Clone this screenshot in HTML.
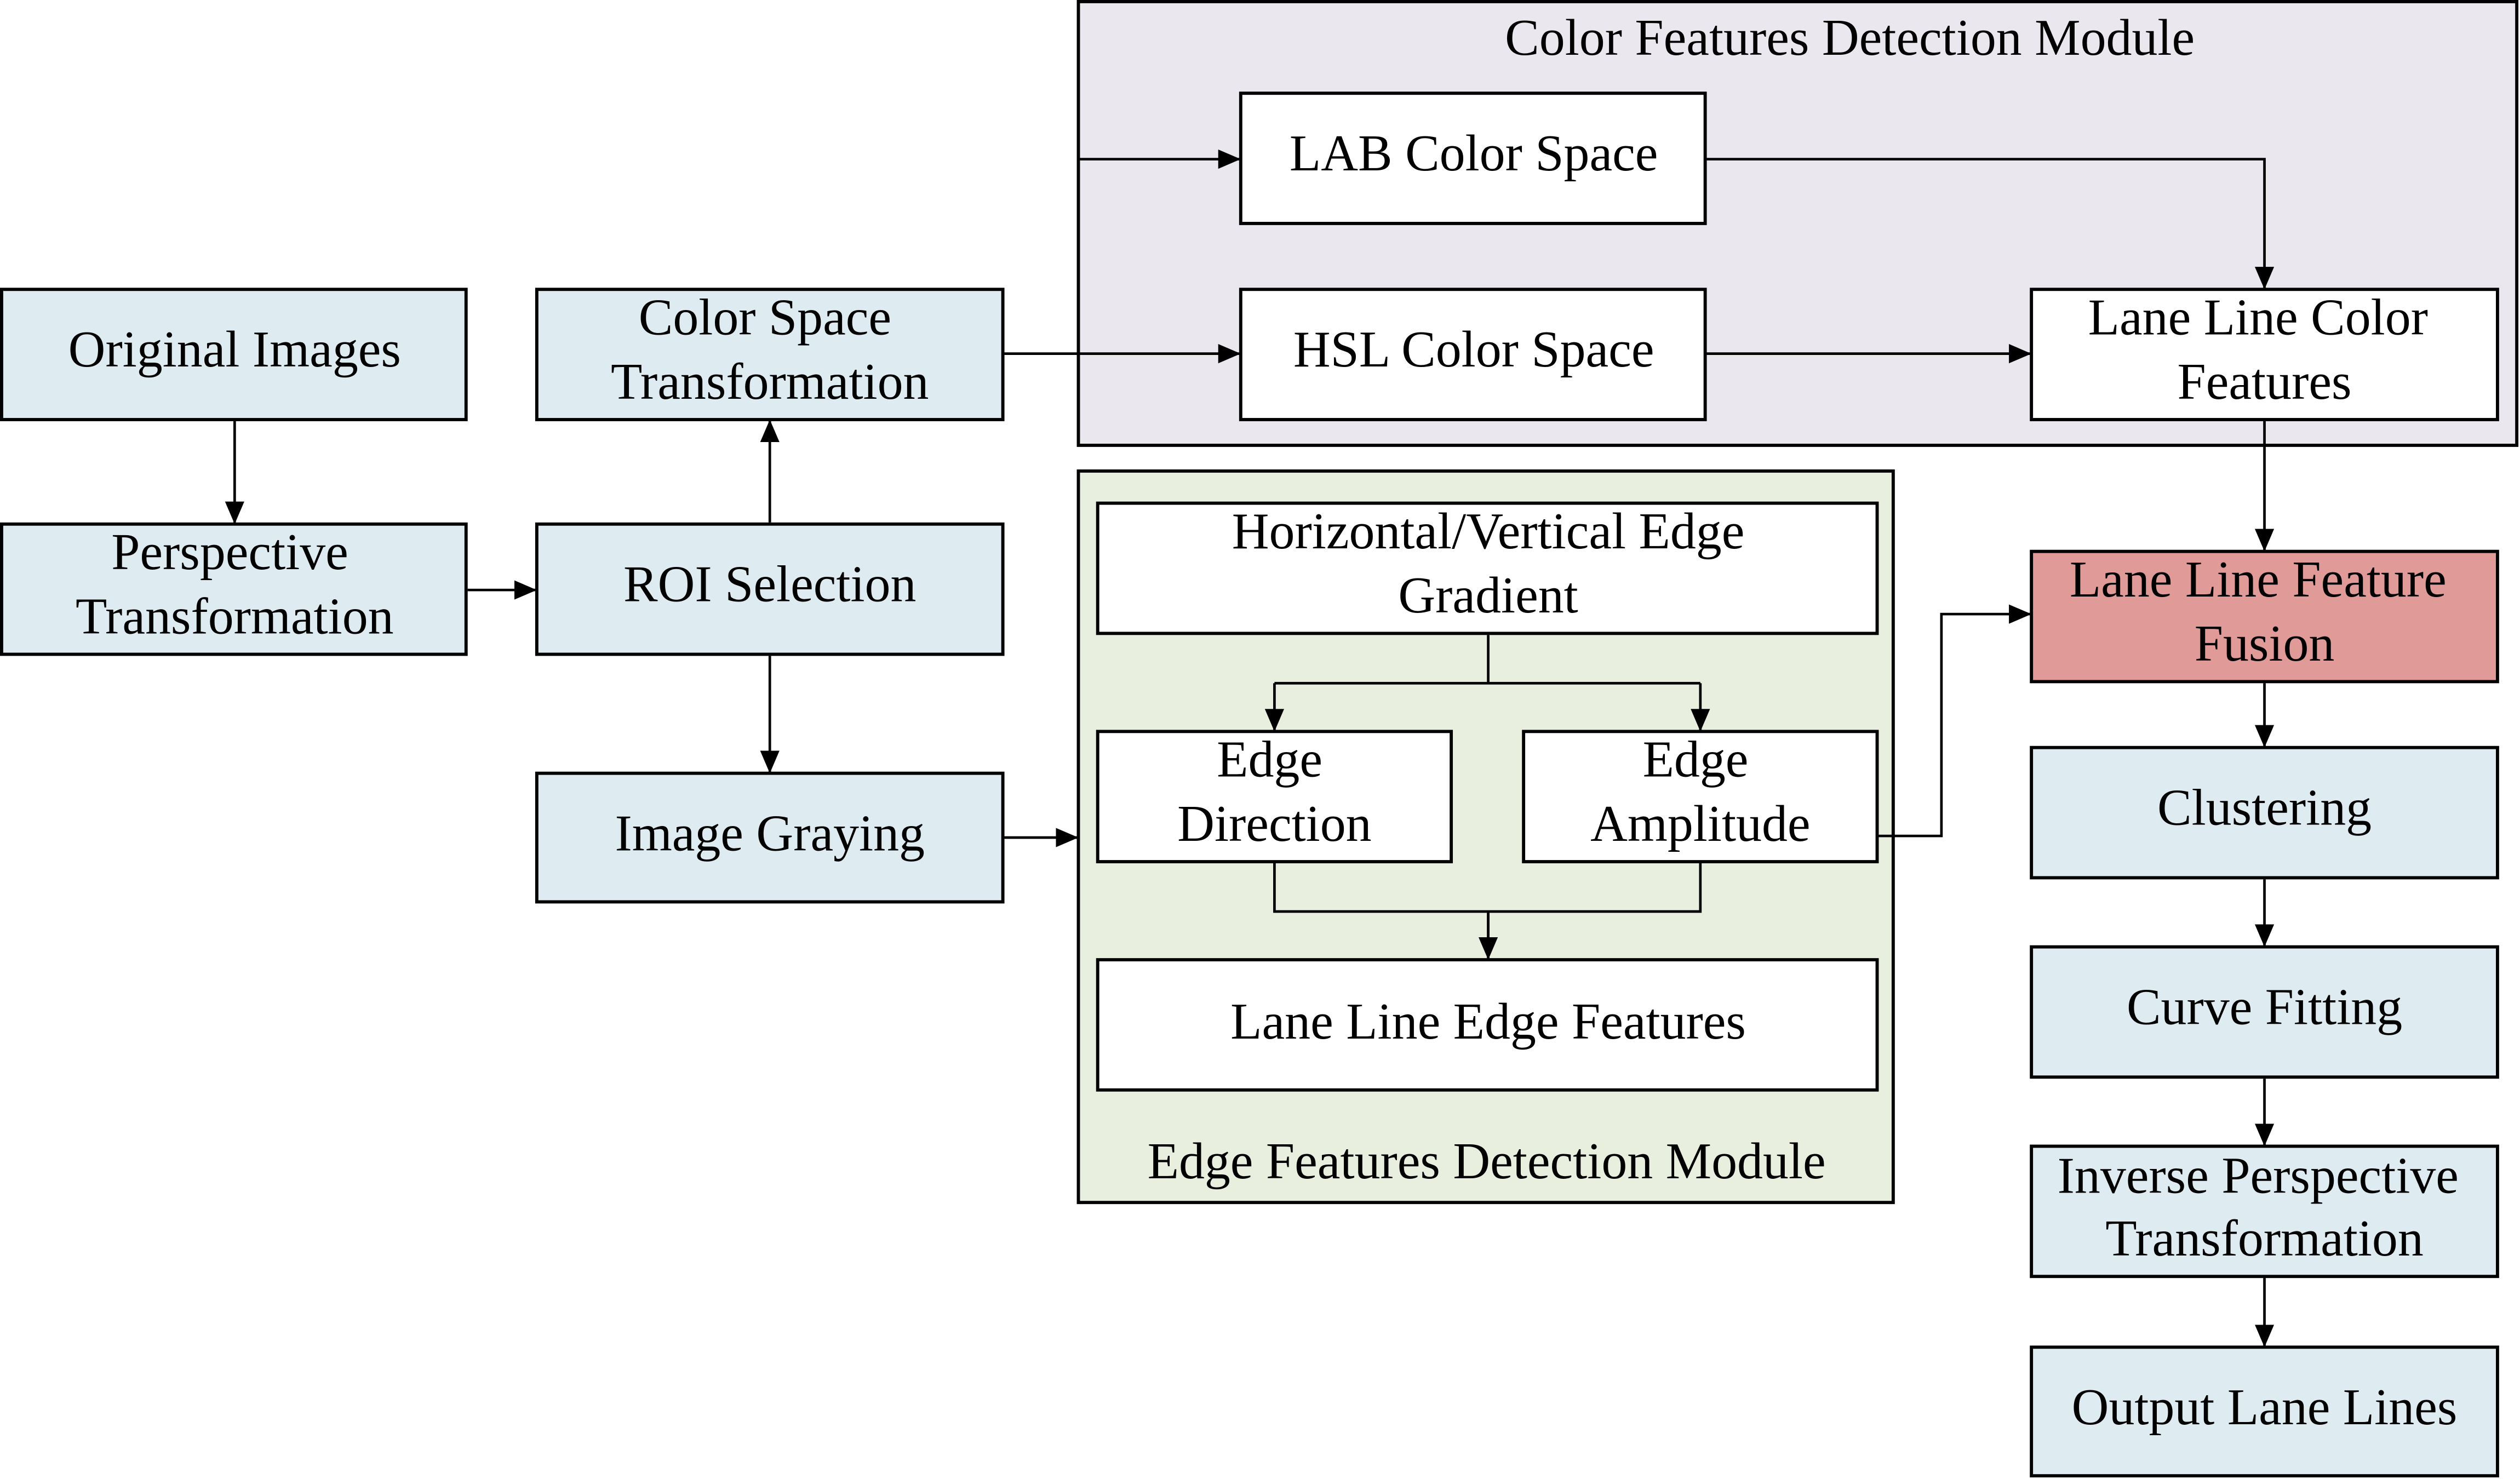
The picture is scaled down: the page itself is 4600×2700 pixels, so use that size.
<!DOCTYPE html>
<html><head><meta charset="utf-8"><style>
html,body{margin:0;padding:0;background:#fff;}
svg{display:block;}
text{font-family:"Liberation Serif",serif;font-size:32px;fill:#000;text-anchor:middle;}
</style></head><body>
<svg width="4600" height="2700" viewBox="0 0 1568 920" preserveAspectRatio="none" xmlns="http://www.w3.org/2000/svg">
<defs><marker id="b" markerWidth="14" markerHeight="12" refX="13" refY="6" orient="auto" markerUnits="userSpaceOnUse"><path d="M0,0 L14,6 L0,12 z" fill="#000"/></marker></defs>
<g stroke="#000" stroke-width="2">
<rect x="671" y="1" width="895" height="276" fill="#ebe7ee"/>
<rect x="671" y="293" width="507" height="455" fill="#e9efdf"/>
<rect x="1" y="180" width="289" height="81" fill="#deecf1"/>
<rect x="1" y="326" width="289" height="81" fill="#deecf1"/>
<rect x="334" y="180" width="290" height="81" fill="#deecf1"/>
<rect x="334" y="326" width="290" height="81" fill="#deecf1"/>
<rect x="334" y="481" width="290" height="80" fill="#deecf1"/>
<rect x="772" y="58" width="289" height="81" fill="#fff"/>
<rect x="772" y="180" width="289" height="81" fill="#fff"/>
<rect x="1264" y="180" width="290" height="81" fill="#fff"/>
<rect x="683" y="313" width="485" height="81" fill="#fff"/>
<rect x="683" y="455" width="220" height="81" fill="#fff"/>
<rect x="948" y="455" width="220" height="81" fill="#fff"/>
<rect x="683" y="597" width="485" height="81" fill="#fff"/>
<rect x="1264" y="343" width="290" height="81" fill="#e09a98"/>
<rect x="1264" y="465" width="290" height="81" fill="#deecf1"/>
<rect x="1264" y="589" width="290" height="81" fill="#deecf1"/>
<rect x="1264" y="713" width="290" height="81" fill="#deecf1"/>
<rect x="1264" y="838" width="290" height="80" fill="#deecf1"/>
</g>
<g stroke="#000" stroke-width="1.6" fill="none">
<path d="M146,262 V325" marker-end="url(#b)"/>
<path d="M291,367 H333" marker-end="url(#b)"/>
<path d="M479,325 V262" marker-end="url(#b)"/>
<path d="M479,408 V480" marker-end="url(#b)"/>
<path d="M625,220 H771" marker-end="url(#b)"/>
<path d="M671,99 H771" marker-end="url(#b)"/>
<path d="M1062,99 H1409 V179" marker-end="url(#b)"/>
<path d="M1062,220 H1263" marker-end="url(#b)"/>
<path d="M1409,262 V342" marker-end="url(#b)"/>
<path d="M625,521 H670" marker-end="url(#b)"/>
<path d="M926,395 V425 M793,425 H1058"/>
<path d="M793,425 V454" marker-end="url(#b)"/>
<path d="M1058,425 V454" marker-end="url(#b)"/>
<path d="M793,537 V567 H1058 V537 M926,567 V596"/>
<path d="M926,567 V596" marker-end="url(#b)"/>
<path d="M1169,520 H1208 V382 H1263" marker-end="url(#b)"/>
<path d="M1409,425 V464" marker-end="url(#b)"/>
<path d="M1409,547 V588" marker-end="url(#b)"/>
<path d="M1409,671 V712" marker-end="url(#b)"/>
<path d="M1409,795 V837" marker-end="url(#b)"/>
</g>
<text x="1151" y="34">Color Features Detection Module</text>
<text x="925" y="733">Edge Features Detection Module</text>
<text x="146" y="228">Original Images</text>
<text x="143" y="354">Perspective</text><text x="146" y="394">Transformation</text>
<text x="476" y="208">Color Space</text><text x="479" y="248">Transformation</text>
<text x="479" y="374">ROI Selection</text>
<text x="479" y="529">Image Graying</text>
<text x="917" y="106">LAB Color Space</text>
<text x="917" y="228">HSL Color Space</text>
<text x="1405" y="208">Lane Line Color</text><text x="1409" y="248">Features</text>
<text x="926" y="341">Horizontal/Vertical Edge</text><text x="926" y="381">Gradient</text>
<text x="790" y="483">Edge</text><text x="793" y="523">Direction</text>
<text x="1055" y="483">Edge</text><text x="1058" y="523">Amplitude</text>
<text x="926" y="646">Lane Line Edge Features</text>
<text x="1405" y="371">Lane Line Feature</text><text x="1409" y="411">Fusion</text>
<text x="1409" y="513">Clustering</text>
<text x="1409" y="637">Curve Fitting</text>
<text x="1405" y="742">Inverse Perspective</text><text x="1409" y="781">Transformation</text>
<text x="1409" y="886">Output Lane Lines</text>
</svg>
</body></html>
